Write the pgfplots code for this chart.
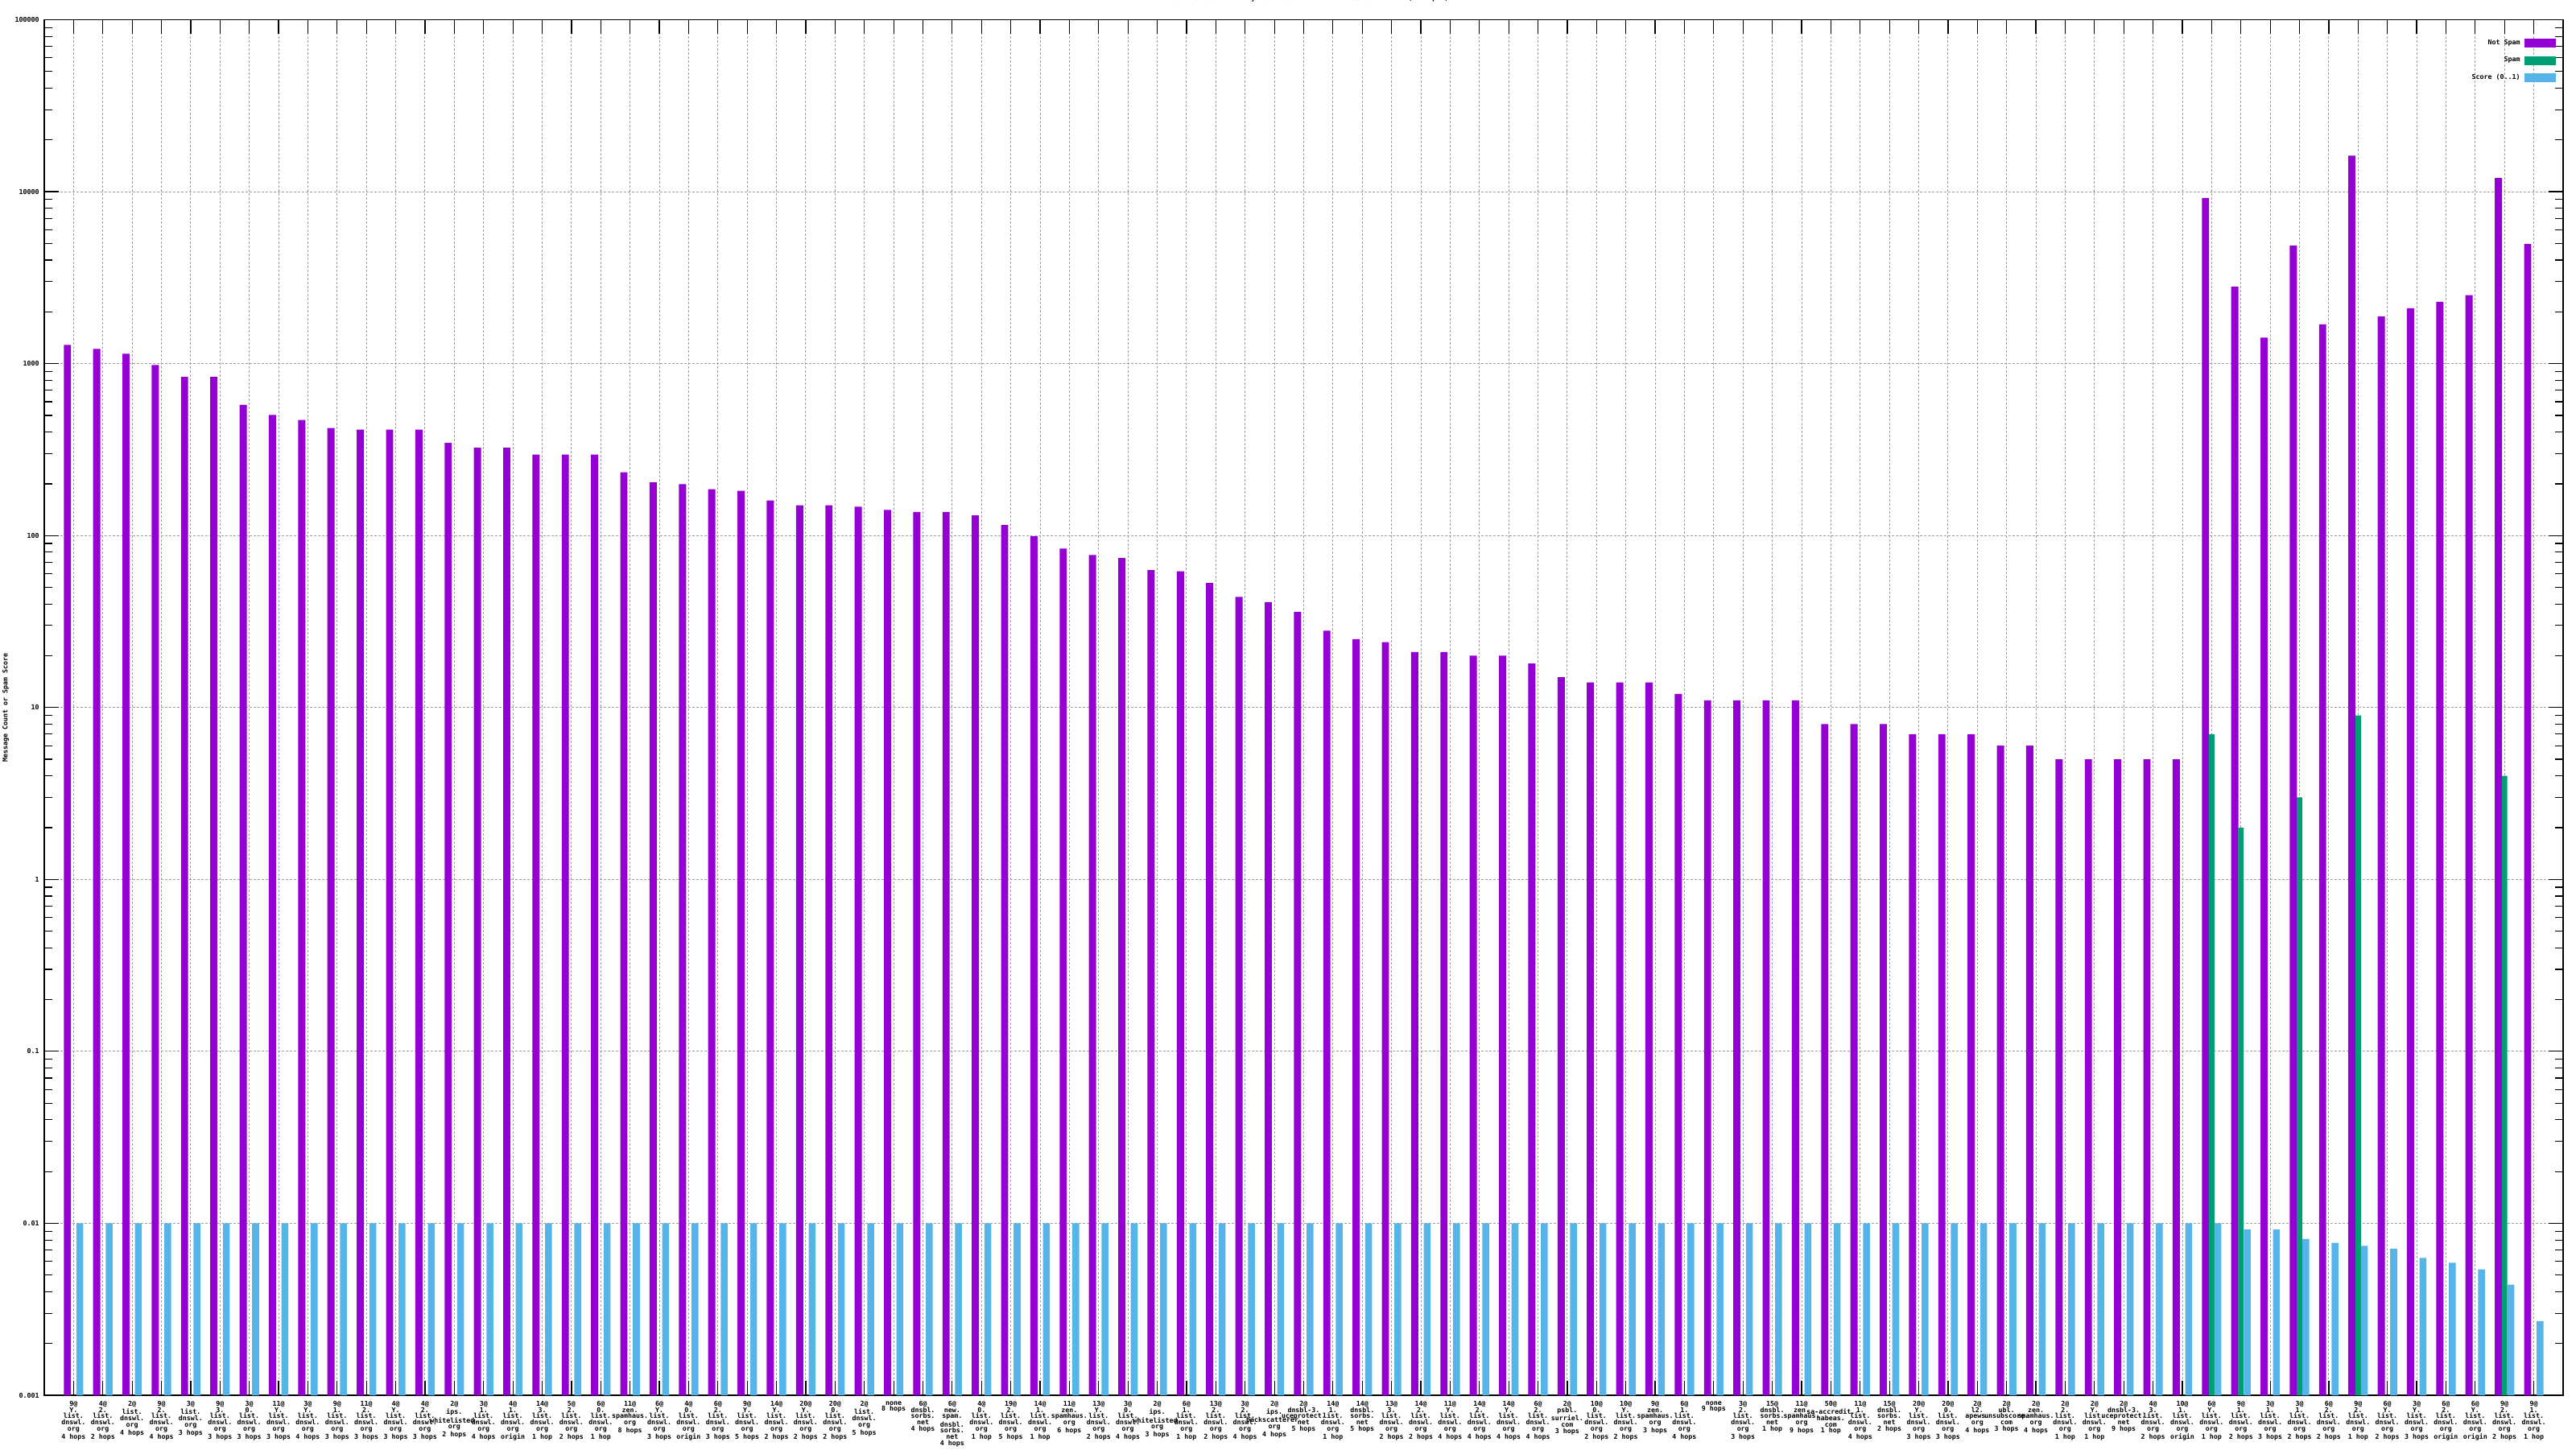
\documentclass[border=0pt]{standalone}
\usepackage{pgfplots}
\pgfplotsset{compat=1.18}
\usepackage{pgfplotstable}
\usepackage{fontspec}
\setmainfont{DejaVu Sans Mono}
\setmonofont{DejaVu Sans Mono}
\definecolor{cns}{HTML}{9400D3}
\definecolor{csp}{HTML}{009E73}
\definecolor{csc}{HTML}{56B4E9}
\newcommand\fs{\fontsize{4.15}{3.85}\selectfont\bfseries}
\pgfplotstableread{
x ns sc
0 1285 0.01
1 1218 0.01
2 1142 0.01
3 982 0.01
4 836 0.01
5 836 0.01
6 575 0.01
7 503 0.01
8 470 0.01
9 422 0.01
10 413 0.01
11 413 0.01
12 413 0.01
13 346 0.01
14 324 0.01
15 324 0.01
16 296 0.01
17 296 0.01
18 296 0.01
19 233 0.01
20 204 0.01
21 199 0.01
22 186 0.01
23 182 0.01
24 160 0.01
25 150 0.01
26 150 0.01
27 147 0.01
28 141 0.01
29 137 0.01
30 137 0.01
31 131 0.01
32 115 0.01
33 99 0.01
34 84 0.01
35 77 0.01
36 74 0.01
37 63 0.01
38 62 0.01
39 53 0.01
40 44 0.01
41 41 0.01
42 36 0.01
43 28 0.01
44 25 0.01
45 24 0.01
46 21 0.01
47 21 0.01
48 20 0.01
49 20 0.01
50 18 0.01
51 15 0.01
52 14 0.01
53 14 0.01
54 14 0.01
55 12 0.01
56 11 0.01
57 11 0.01
58 11 0.01
59 11 0.01
60 8 0.01
61 8 0.01
62 8 0.01
63 7 0.01
64 7 0.01
65 7 0.01
66 6 0.01
67 6 0.01
68 5 0.01
69 5 0.01
70 5 0.01
71 5 0.01
72 5 0.01
73 9200 0.01
74 2800 0.0092
75 1415 0.0092
76 4850 0.0081
77 1690 0.0077
78 16200 0.0074
79 1880 0.0071
80 2100 0.0063
81 2290 0.0059
82 2500 0.0054
83 12000 0.0044
84 4960 0.0027
}\datatable
\begin{document}
\begin{tikzpicture}
\begin{axis}[
  scale only axis, width=1564.5pt, height=854.25pt,
  ymode=log, log origin y=infty,
  xmin=-1, xmax=85, ymin=0.001, ymax=100000,
  ybar, bar width=0.23,
  xtick={0,...,84},
  xticklabels={
{9@\\Y.\\list.\\dnswl.\\org\\4 hops},
{4@\\2.\\list.\\dnswl.\\org\\2 hops},
{2@\\list.\\dnswl.\\org\\4 hops},
{9@\\2.\\list.\\dnswl.\\org\\4 hops},
{3@\\list.\\dnswl.\\org\\3 hops},
{9@\\3.\\list.\\dnswl.\\org\\3 hops},
{3@\\0.\\list.\\dnswl.\\org\\3 hops},
{11@\\Y.\\list.\\dnswl.\\org\\3 hops},
{3@\\Y.\\list.\\dnswl.\\org\\4 hops},
{9@\\1.\\list.\\dnswl.\\org\\3 hops},
{11@\\2.\\list.\\dnswl.\\org\\3 hops},
{4@\\Y.\\list.\\dnswl.\\org\\3 hops},
{4@\\2.\\list.\\dnswl.\\org\\3 hops},
{2@\\ips.\\whitelisted.\\org\\2 hops},
{3@\\1.\\list.\\dnswl.\\org\\4 hops},
{4@\\1.\\list.\\dnswl.\\org\\origin},
{14@\\3.\\list.\\dnswl.\\org\\1 hop},
{5@\\2.\\list.\\dnswl.\\org\\2 hops},
{6@\\0.\\list.\\dnswl.\\org\\1 hop},
{11@\\zen.\\spamhaus.\\org\\8 hops},
{6@\\Y.\\list.\\dnswl.\\org\\3 hops},
{4@\\0.\\list.\\dnswl.\\org\\origin},
{6@\\2.\\list.\\dnswl.\\org\\3 hops},
{9@\\Y.\\list.\\dnswl.\\org\\5 hops},
{14@\\Y.\\list.\\dnswl.\\org\\2 hops},
{20@\\Y.\\list.\\dnswl.\\org\\2 hops},
{20@\\0.\\list.\\dnswl.\\org\\2 hops},
{2@\\list.\\dnswl.\\org\\5 hops},
{none\\8 hops},
{6@\\dnsbl.\\sorbs.\\net\\4 hops},
{6@\\new.\\spam.\\dnsbl.\\sorbs.\\net\\4 hops},
{4@\\0.\\list.\\dnswl.\\org\\1 hop},
{19@\\2.\\list.\\dnswl.\\org\\5 hops},
{14@\\1.\\list.\\dnswl.\\org\\1 hop},
{11@\\zen.\\spamhaus.\\org\\6 hops},
{13@\\Y.\\list.\\dnswl.\\org\\2 hops},
{3@\\0.\\list.\\dnswl.\\org\\4 hops},
{2@\\ips.\\whitelisted.\\org\\3 hops},
{6@\\1.\\list.\\dnswl.\\org\\1 hop},
{13@\\2.\\list.\\dnswl.\\org\\2 hops},
{3@\\2.\\list.\\dnswl.\\org\\4 hops},
{2@\\ips.\\backscatterer.\\org\\4 hops},
{2@\\dnsbl-3.\\uceprotect.\\net\\5 hops},
{14@\\1.\\list.\\dnswl.\\org\\1 hop},
{14@\\dnsbl.\\sorbs.\\net\\5 hops},
{13@\\3.\\list.\\dnswl.\\org\\2 hops},
{14@\\2.\\list.\\dnswl.\\org\\2 hops},
{11@\\Y.\\list.\\dnswl.\\org\\4 hops},
{14@\\2.\\list.\\dnswl.\\org\\4 hops},
{14@\\Y.\\list.\\dnswl.\\org\\4 hops},
{6@\\2.\\list.\\dnswl.\\org\\4 hops},
{2@\\psbl.\\surriel.\\com\\3 hops},
{10@\\0.\\list.\\dnswl.\\org\\2 hops},
{10@\\Y.\\list.\\dnswl.\\org\\2 hops},
{9@\\zen.\\spamhaus.\\org\\3 hops},
{6@\\1.\\list.\\dnswl.\\org\\4 hops},
{none\\9 hops},
{3@\\2.\\list.\\dnswl.\\org\\3 hops},
{15@\\dnsbl.\\sorbs.\\net\\1 hop},
{11@\\zen.\\spamhaus.\\org\\9 hops},
{50@\\sa-accredit.\\habeas.\\com\\1 hop},
{11@\\1.\\list.\\dnswl.\\org\\4 hops},
{15@\\dnsbl.\\sorbs.\\net\\2 hops},
{20@\\Y.\\list.\\dnswl.\\org\\3 hops},
{20@\\0.\\list.\\dnswl.\\org\\3 hops},
{2@\\l2.\\apews.\\org\\4 hops},
{2@\\ubl.\\unsubscore.\\com\\3 hops},
{2@\\zen.\\spamhaus.\\org\\4 hops},
{2@\\2.\\list.\\dnswl.\\org\\1 hop},
{2@\\Y.\\list.\\dnswl.\\org\\1 hop},
{2@\\dnsbl-3.\\uceprotect.\\net\\9 hops},
{4@\\3.\\list.\\dnswl.\\org\\2 hops},
{10@\\1.\\list.\\dnswl.\\org\\origin},
{6@\\Y.\\list.\\dnswl.\\org\\1 hop},
{9@\\1.\\list.\\dnswl.\\org\\2 hops},
{3@\\1.\\list.\\dnswl.\\org\\3 hops},
{3@\\1.\\list.\\dnswl.\\org\\2 hops},
{6@\\2.\\list.\\dnswl.\\org\\2 hops},
{9@\\2.\\list.\\dnswl.\\org\\1 hop},
{6@\\Y.\\list.\\dnswl.\\org\\2 hops},
{3@\\Y.\\list.\\dnswl.\\org\\3 hops},
{6@\\2.\\list.\\dnswl.\\org\\origin},
{6@\\Y.\\list.\\dnswl.\\org\\origin},
{9@\\2.\\list.\\dnswl.\\org\\2 hops},
{9@\\1.\\list.\\dnswl.\\org\\1 hop}
  },
  ytick={0.001,0.01,0.1,1,10,100,1000,10000,100000},
  yticklabels={0.001,0.01,0.1,1,10,100,1000,10000,100000},
  minor ytick={0.002,0.003,0.004,0.005,0.006,0.007,0.008,0.009,
    0.02,0.03,0.04,0.05,0.06,0.07,0.08,0.09,
    0.2,0.3,0.4,0.5,0.6,0.7,0.8,0.9,
    2,3,4,5,6,7,8,9,
    20,30,40,50,60,70,80,90,
    200,300,400,500,600,700,800,900,
    2000,3000,4000,5000,6000,7000,8000,9000,
    20000,30000,40000,50000,60000,70000,80000,90000},
  tick align=inside, major tick length=9pt, minor tick length=4.8pt,
  axis line style={line width=0.8pt},
  every tick/.style={black, line width=0.6pt},
  xmajorgrids, ymajorgrids,
  x grid style={gray!75, dash pattern=on 1.5pt off 1pt, line width=0.5pt},
  y grid style={gray!75, dash pattern=on 1.5pt off 1pt, line width=0.5pt},
  tick label style={font=\fs},
  xticklabel style={align=center, inner sep=0pt, yshift=-3.5pt},
  yticklabel style={inner sep=0pt, xshift=-3pt},
  title={RBL Statistics - Thu May~~5 12:58:10 EDT 2022 - Score <= 0.01 (Non-Spam)},
  title style={at={(axis description cs:0.5,1)}, anchor=center, yshift=7.25pt, inner sep=0pt, font=\fs},
  ylabel={Message Count or Spam Score},
  ylabel style={at={(axis description cs:-0.0153,0.5)}, anchor=center, inner sep=0pt, font=\fs},
  legend style={draw=none, fill=none, at={(axis description cs:1,1)}, anchor=north east,
    xshift=-4.5pt, yshift=-11.6pt, font=\fs, row sep=5.35pt, column sep=2.5pt,
    inner sep=0pt, nodes={inner sep=0pt}},
  legend cell align=right, legend plot pos=right,
]
\addplot[fill=cns, draw=none, bar width=0.245, bar shift=-0.21,
  legend image code/.code={\fill[cns] (0pt,-2.75pt) rectangle (19.5pt,2.75pt);}]
  table[x=x, y=ns] {\datatable};
\addlegendentry{Not Spam}
\addplot[fill=csp, draw=none, bar width=0.19, bar shift=0,
  legend image code/.code={\fill[csp] (0pt,-2.75pt) rectangle (19.5pt,2.75pt);}]
  coordinates {(73,7) (74,2) (76,3) (78,9) (83,4)};
\addlegendentry{Spam}
\addplot[fill=csc, draw=none, bar width=0.235, bar shift=0.215,
  legend image code/.code={\fill[csc] (0pt,-2.75pt) rectangle (19.5pt,2.75pt);}]
  table[x=x, y=sc] {\datatable};
\addlegendentry{Score (0..1)}
\end{axis}
\pgfresetboundingbox
\path (-27.5pt,-33.5pt) rectangle (1572.5pt,866.5pt);
\end{tikzpicture}
\end{document}
